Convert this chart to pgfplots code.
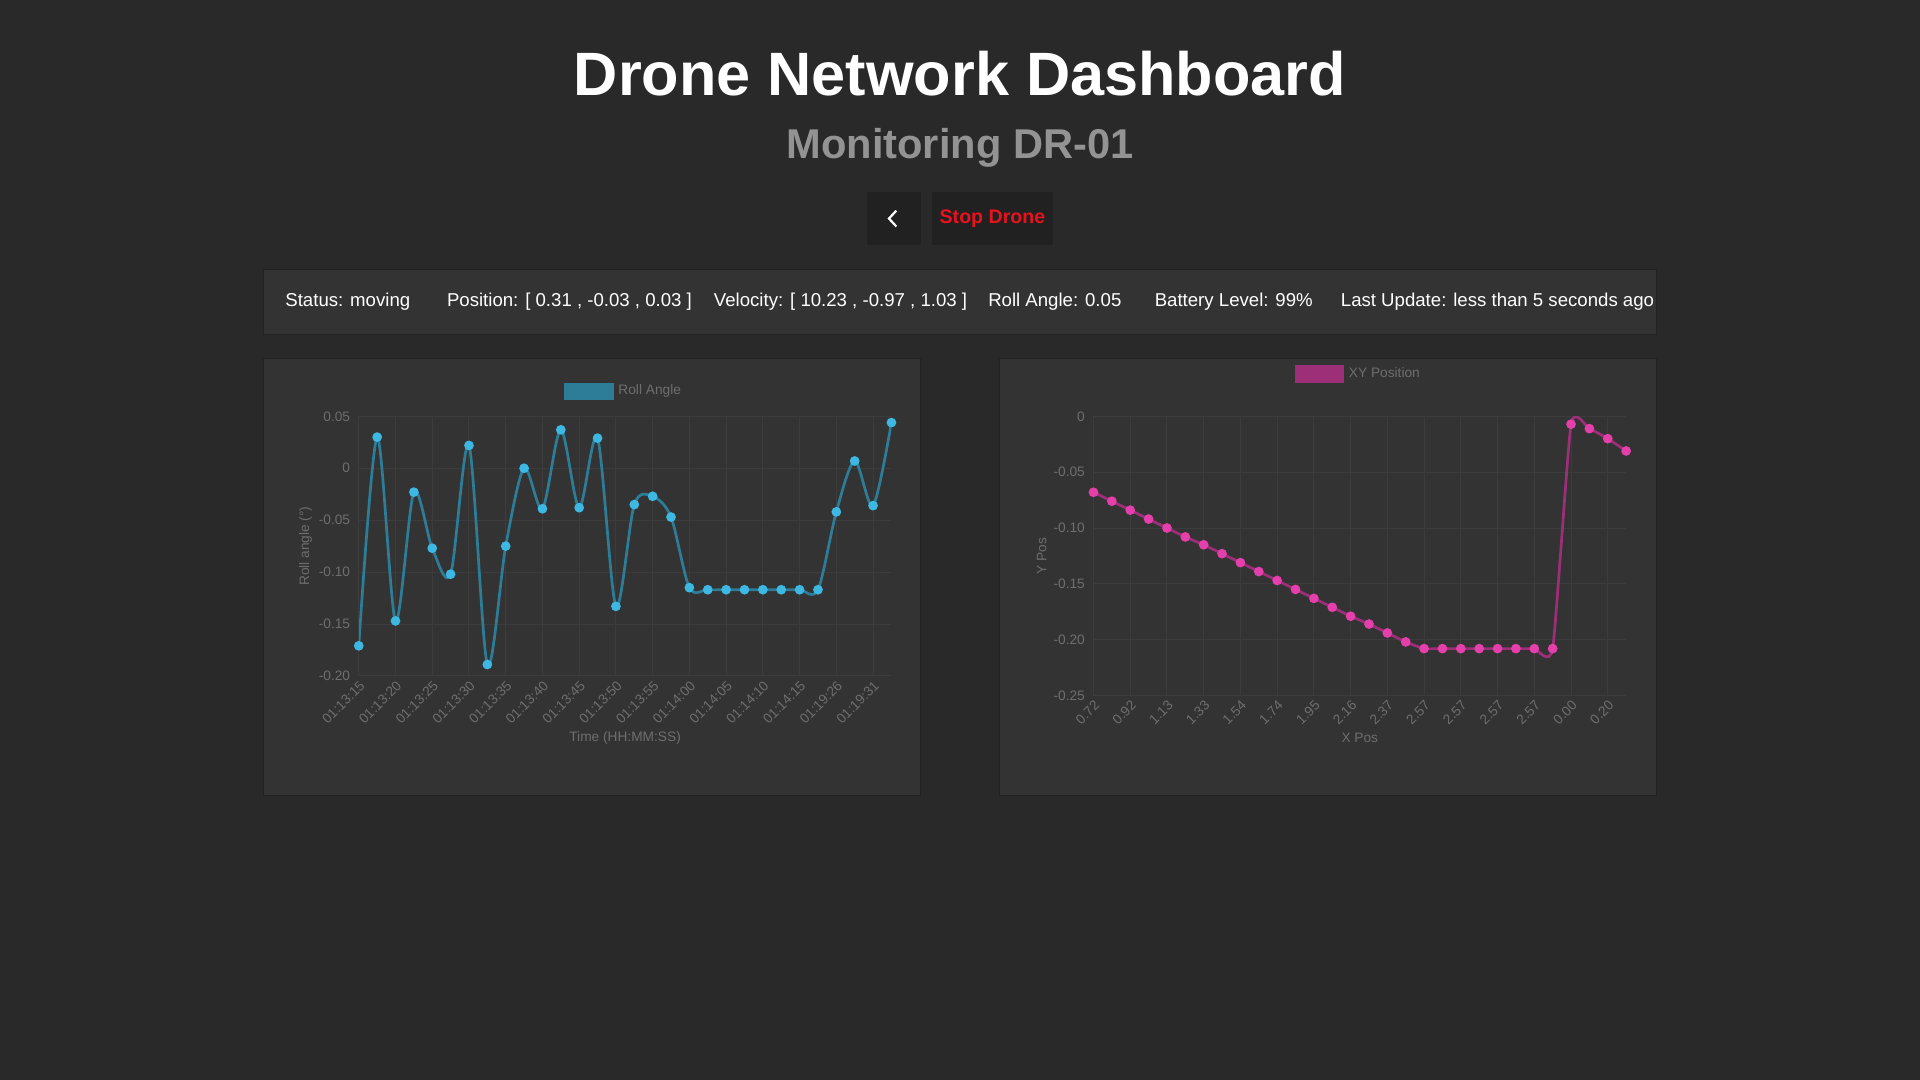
\documentclass[border=0pt]{standalone}
\usepackage{pgfplots}
\pgfplotsset{compat=1.18}
\usepackage{fontspec}
\setmainfont{Liberation Sans}
\definecolor{bg}{HTML}{292929}
\definecolor{panel}{HTML}{333333}
\definecolor{edge}{HTML}{222222}
\definecolor{gridc}{HTML}{3C3C3C}
\definecolor{tickc}{HTML}{6E6E6E}
\definecolor{rollline}{HTML}{2E7D98}
\definecolor{rollmark}{HTML}{3DB8E2}
\definecolor{xyline}{HTML}{9C2F78}
\definecolor{xymark}{HTML}{E43FAA}
\definecolor{stopred}{HTML}{E8121C}
\pgfplotsset{
  dash/.style={
    scale only axis, axis background/.style={fill=panel},
    xmin=0, xmax=29,
    xtick={0,2,...,28},
    grid=major, major grid style={gridc, line width=0.4pt},
    axis line style={draw=none}, tick style={draw=none},
    ticklabel style={font=\fontsize{5.6}{6}\selectfont, text=tickc},
    /pgf/number format/assume math mode=true,
    x tick label style={rotate=45, anchor=north east, inner sep=1pt},
    label style={font=\fontsize{5.6}{6}\selectfont, text=tickc},
    legend style={at={(0.5,1.03)}, anchor=south, draw=none, fill=none,
      font=\fontsize{5.6}{6}\selectfont, text=tickc},
    legend cell align=left,
  }
}
\begin{document}
\begin{tikzpicture}[x=1pt,y=1pt]
\fill[bg] (0pt,0pt) rectangle (784pt,-441pt);
\node[text=white, font=\fontsize{25}{28}\selectfont\bfseries] at (392pt,-30pt) {Drone Network Dashboard};
\node[text=gray!85, font=\fontsize{17}{20}\selectfont\bfseries] at (392pt,-60.5pt) {Monitoring DR-01};
\fill[bg!80!black] (354pt,-78.5pt) rectangle (376pt,-100pt);
\draw[white, line width=0.9pt] (366pt,-86pt) -- (363pt,-89.25pt) -- (366pt,-92.5pt);
\fill[bg!80!black] (380.5pt,-78.5pt) rectangle (430pt,-100pt);
\node[text=stopred, font=\fontsize{8}{9}\selectfont\bfseries] at (405.25pt,-89.25pt) {Stop Drone};
\fill[panel] (107.5pt,-110pt) rectangle (676.5pt,-136.5pt);
\draw[edge] (107.5pt,-110pt) rectangle (676.5pt,-136.5pt);
\begin{scope}[font=\fontsize{7.6}{9}\selectfont, text=white]
\node[anchor=west] at (113pt,-123.25pt) {Status: moving};
\node[anchor=west] at (179pt,-123.25pt) {Position: [ 0.31 , -0.03 , 0.03 ]};
\node[anchor=west] at (288pt,-123.25pt) {Velocity: [ 10.23 , -0.97 , 1.03 ]};
\node[anchor=west] at (400pt,-123.25pt) {Roll Angle: 0.05};
\node[anchor=west] at (468pt,-123.25pt) {Battery Level: 99\%};
\node[anchor=west] at (544pt,-123.25pt) {Last Update: less than 5 seconds ago};
\end{scope}
\fill[panel] (107.5pt,-146.5pt) rectangle (376pt,-325pt);
\draw[edge] (107.5pt,-146.5pt) rectangle (376pt,-325pt);
\fill[panel] (408pt,-146.5pt) rectangle (676.5pt,-325pt);
\draw[edge] (408pt,-146.5pt) rectangle (676.5pt,-325pt);

\begin{axis}[dash, at={(146.5pt,-276pt)}, anchor=south west, width=217.5pt, height=106pt,
  ymin=-0.2, ymax=0.05, ytick={-0.2,-0.15,-0.1,-0.05,0,0.05},
  yticklabels={-0.20,-0.15,-0.10,-0.05,0,0.05},
  xticklabels={01:13:15,01:13:20,01:13:25,01:13:30,01:13:35,01:13:40,01:13:45,01:13:50,01:13:55,01:14:00,01:14:05,01:14:10,01:14:15,01:19:26,01:19:31},
  ylabel={Roll angle (°)}, xlabel={Time (HH:MM:SS)},
  ylabel style={yshift=-4pt}, xlabel style={yshift=2pt},
  legend image code/.code={\fill[rollline] (0pt,-3pt) rectangle (19pt,3pt);}]
\addplot[rollline, line width=1.1pt, smooth, tension=0.5, mark=*, mark size=1.4pt,
  mark options={fill=rollmark, draw=rollmark}] coordinates {
(0,-0.171)(1,0.030)(2,-0.147)(3,-0.023)(4,-0.077)(5,-0.102)(6,0.022)(7,-0.189)
(8,-0.075)(9,0.000)(10,-0.039)(11,0.037)(12,-0.038)(13,0.029)(14,-0.133)(15,-0.035)
(16,-0.027)(17,-0.047)(18,-0.115)(19,-0.117)(20,-0.117)(21,-0.117)(22,-0.117)
(23,-0.117)(24,-0.117)(25,-0.117)(26,-0.042)(27,0.007)(28,-0.036)(29,0.044)};
\addlegendentry{Roll Angle}
\end{axis}

\begin{axis}[dash, at={(446.5pt,-284pt)}, anchor=south west, width=217.5pt, height=114pt,
  ymin=-0.25, ymax=0, ytick={-0.25,-0.2,-0.15,-0.1,-0.05,0},
  yticklabels={-0.25,-0.20,-0.15,-0.10,-0.05,0},
  xticklabels={0.72,0.92,1.13,1.33,1.54,1.74,1.95,2.16,2.37,2.57,2.57,2.57,2.57,0.00,0.20},
  ylabel={Y Pos}, xlabel={X Pos},
  ylabel style={yshift=-4pt}, xlabel style={yshift=2pt},
  legend style={at={(0.5,1.09)}},
  legend image code/.code={\fill[xyline] (0pt,-3pt) rectangle (19pt,3pt);}]
\addplot[xyline, line width=1.1pt, smooth, tension=0.3, mark=*, mark size=1.4pt,
  mark options={fill=xymark, draw=xymark}] coordinates {
(0,-0.068)(1,-0.076)(2,-0.084)(3,-0.092)(4,-0.100)(5,-0.108)(6,-0.115)(7,-0.123)
(8,-0.131)(9,-0.139)(10,-0.147)(11,-0.155)(12,-0.163)(13,-0.171)(14,-0.179)
(15,-0.186)(16,-0.194)(17,-0.202)(18,-0.208)(19,-0.208)(20,-0.208)(21,-0.208)
(22,-0.208)(23,-0.208)(24,-0.208)(25,-0.208)(26,-0.007)(27,-0.011)(28,-0.020)(29,-0.031)};
\addlegendentry{XY Position}
\end{axis}
\end{tikzpicture}
\end{document}
